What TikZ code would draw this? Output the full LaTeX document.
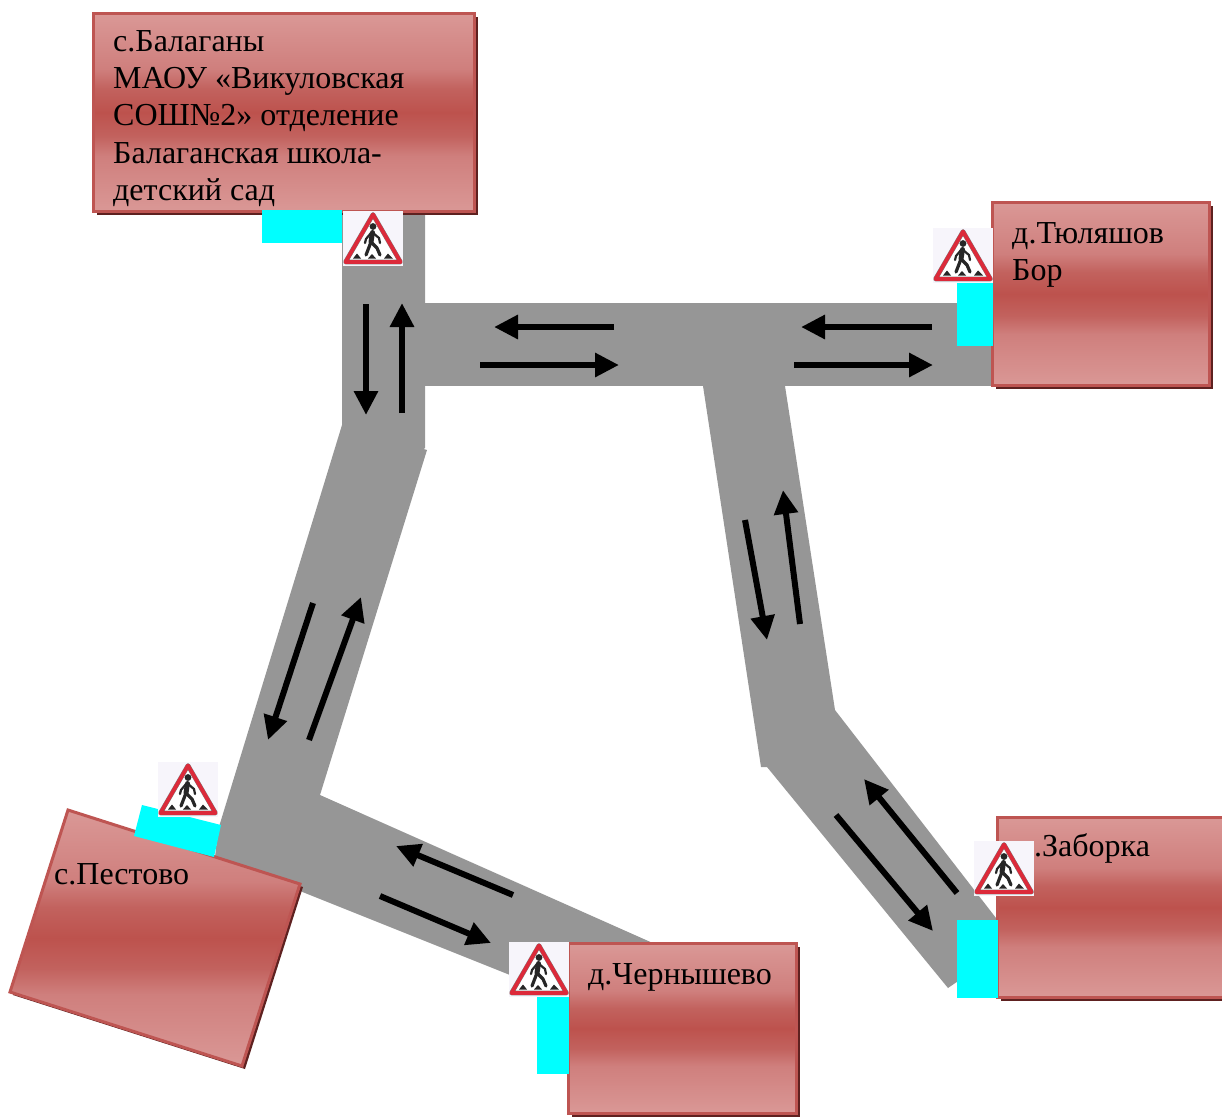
\documentclass[tikz,border=0pt]{standalone}
\usepackage{fontspec}
\setmainfont{Liberation Serif}
\usetikzlibrary{arrows.meta,shadows,calc}
\definecolor{roadgray}{HTML}{969696}
\definecolor{boxlight}{HTML}{DA9896}
\definecolor{boxupper}{HTML}{CF7F7D}
\definecolor{boxinner}{HTML}{C2625E}
\definecolor{boxmid}{HTML}{BD524D}
\definecolor{boxedge}{HTML}{BE5552}
\definecolor{boxshadow}{HTML}{5E2120}
\definecolor{signback}{HTML}{F7F5FB}
\definecolor{signred}{HTML}{DC2A3A}
\definecolor{crossingcyan}{HTML}{00FFFF}
\pgfdeclareverticalshading{placeshade}{100bp}{color(0bp)=(boxlight); color(25bp)=(boxlight);
	color(39bp)=(boxupper); color(44bp)=(boxinner); color(50bp)=(boxmid); color(56bp)=(boxinner);
	color(61bp)=(boxupper); color(75bp)=(boxlight); color(100bp)=(boxlight)}
\newcommand{\makesign}[1]{
	\begin{scope}[shift={(#1)}]
	\fill[signback] (0,0) rectangle (60,55);
	\draw[gray, line width=4.6, line join=round, fill=white] (30,3.5) -- (57.5,51) -- (2.5,51) -- cycle;
	\draw[signred, line width=3.8, line join=round] (30,3.5) -- (57.5,51) -- (2.5,51) -- cycle;
	\fill[black!85] (30,15.5) circle (3.4);
	\draw[black!85, line width=5, line cap=round, line join=round] (29.5,21.5) -- (28,31);
	\draw[black!85, line width=3.2, line cap=round, line join=round] (28,31) -- (34,37) -- (37,44);
	\draw[black!85, line width=3.2, line cap=round, line join=round] (28,31) -- (23,44);
	\draw[black!85, line width=2.2, line cap=round, line join=round] (28,22) -- (23,28) -- (22,32);
	\draw[black!85, line width=2.2, line cap=round, line join=round] (30,22) -- (36,27) -- (37,32);
	\fill[black!85] (10,47.5) -- (14,42.5) -- (18,47.5) -- cycle;
	\fill[black!85] (25,47.5) -- (29,43) -- (33,47.5) -- cycle;
	\fill[black!85] (41,47.5) -- (45,42.5) -- (50,47.5) -- cycle;
	\end{scope}
}
\tikzset{
	road/.style={fill=roadgray},
	crossing/.style={fill=crossingcyan},
	placebox/.style={draw=boxedge, line width=3, shading=placeshade,
		general shadow={fill=boxshadow, shadow xshift=3.5, shadow yshift=3.5}, anchor=north west, inner sep=0},
	placetext/.style={anchor=north west, align=left, inner sep=0, font=\fontsize{32}{37.4}\selectfont},
	lane/.style={line width=6, -{Triangle[length=24pt,width=23pt]}},
}
\begin{document}
\begin{tikzpicture}[x=1pt,y=-1pt]
	\useasboundingbox (0,0) rectangle (1222,1117);
	% roads
	\fill[road] (342,215) -- (425,215) -- (425,448) -- (400,470) -- (342,425) -- cycle;
	\fill[road] (425,303) -- (995,303) -- (995,386) -- (425,386) -- cycle;
	\fill[road] (342,425) -- (427,450) -- (320,795) -- (215,857) -- (218,830) -- cycle;
	\fill[road] (290,780) -- (320,795) -- (655,944) -- (569,975) -- (510,975) -- (215,857) -- cycle;
	\fill[road] (703,386) -- (785,386) -- (835,710) -- (996,918) -- (996,955) -- (948,988) -- (767,767) -- (761,767) -- cycle;

	% boxes
	\node[placebox, minimum width=381, minimum height=198] (balagany) at (92,12) {};
	\node[placebox, minimum width=217, minimum height=183] (tulyashov) at (991,201) {};
	\node[placebox, minimum width=226, minimum height=180] (zaborka) at (996,816) {};
	\node[placebox, minimum width=228, minimum height=170] (chernyshevo) at (567,942) {};
	\coordinate (P1) at (68,810);
	\coordinate (P2) at (300,884);
	\coordinate (P3) at (242,1066);
	\coordinate (P4) at (10,992);
	\fill[boxshadow] ($(P1)+(3,3)$) -- ($(P2)+(3,3)$) -- ($(P3)+(3,3)$) -- ($(P4)+(3,3)$) -- cycle;
	\path[draw=boxedge, line width=3, shading=placeshade] (P1) -- (P2) -- (P3) -- (P4) -- cycle;

	% crossings
	\fill[crossing] (262,210) rectangle (342,243);
	\fill[crossing] (957,283) rectangle (993,346);
	\fill[crossing] (957,920) rectangle (998,998);
	\fill[crossing] (537,997) rectangle (569,1074);
	\fill[crossing] (142,805) -- (221,825) -- (214,857) -- (134,836) -- cycle;

	% labels
	\node[placetext] (balaganytext) at (113,30) {с.Балаганы\\МАОУ «Викуловская\\СОШ№2» отделение\\Балаганская школа-\\детский сад};
	\node[placetext] (tulyashovtext) at (1012,222) {д.Тюляшов\\Бор};
	\node[placetext] (zaborkatext) at (1034,833) {.Заборка};
	\node[placetext] (chernyshevotext) at (588,963) {д.Чернышево};
	\node[placetext] (pestovotext) at (54,863) {с.Пестово};

	% lanes
	\coordinate (a1) at (366,304);  \coordinate (a2) at (366,415);
	\coordinate (b1) at (402,413);  \coordinate (b2) at (402,303);
	\coordinate (c1) at (614,327);  \coordinate (c2) at (494,327);
	\coordinate (d1) at (480,365);  \coordinate (d2) at (619,365);
	\coordinate (e1) at (932,327);  \coordinate (e2) at (801,327);
	\coordinate (f1) at (794,365);  \coordinate (f2) at (933,365);
	\coordinate (g1) at (745,520);  \coordinate (g2) at (767,640);
	\coordinate (h1) at (800,624);  \coordinate (h2) at (783,490);
	\coordinate (i1) at (957,893);  \coordinate (i2) at (864,779);
	\coordinate (j1) at (836,815);  \coordinate (j2) at (933,931);
	\coordinate (k1) at (313,603);  \coordinate (k2) at (268,740);
	\coordinate (l1) at (309,740);  \coordinate (l2) at (361,597);
	\coordinate (m1) at (513,895);  \coordinate (m2) at (396,846);
	\coordinate (n1) at (380,896);  \coordinate (n2) at (491,943);
	\draw[lane] (a1) -- (a2);
	\draw[lane] (b1) -- (b2);
	\draw[lane] (c1) -- (c2);
	\draw[lane] (d1) -- (d2);
	\draw[lane] (e1) -- (e2);
	\draw[lane] (f1) -- (f2);
	\draw[lane] (g1) -- (g2);
	\draw[lane] (h1) -- (h2);
	\draw[lane] (i1) -- (i2);
	\draw[lane] (j1) -- (j2);
	\draw[lane] (k1) -- (k2);
	\draw[lane] (l1) -- (l2);
	\draw[lane] (m1) -- (m2);
	\draw[lane] (n1) -- (n2);

	% signs
	\makesign{343,211}
	\makesign{933,228}
	\makesign{974,841}
	\makesign{158,762}
	\makesign{509,942}
\end{tikzpicture}
\end{document}
